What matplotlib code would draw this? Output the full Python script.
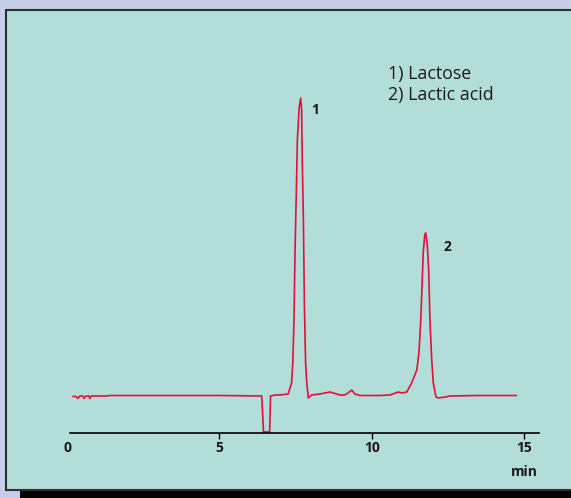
import matplotlib.pyplot as plt
from matplotlib.patches import Rectangle

# chromatogram trace (time in min, detector response)
time = [0.20, 0.30, 0.36, 0.42, 0.52, 0.56, 0.62, 0.72, 0.75, 0.80,
        1.30, 1.40, 3.00, 5.00, 6.39, 6.45, 6.65, 6.68, 6.83,
        6.99, 7.26, 7.37, 7.41, 7.45, 7.48, 7.52, 7.56, 7.62, 7.67,
        7.70, 7.72, 7.76, 7.79, 7.83, 7.87, 7.92, 8.03, 8.30,
        8.63, 8.96, 9.12, 9.22, 9.34, 9.45, 9.62, 10.27, 10.60,
        10.87, 10.99, 11.15, 11.31, 11.48, 11.55, 11.61, 11.65, 11.69,
        11.74, 11.77, 11.82, 11.87, 11.91, 11.97, 12.02, 12.11, 12.19,
        12.41, 12.57, 13.50, 14.74]
response = [-0.5, -0.5, -2.5, 0, 0, -2.5, 0, 0, -2.5, 0,
            0, 0.5, 0.5, 0.5, 0, -36, -36, 0, 1,
            1, 2, 13, 33, 76, 139, 196, 256, 289, 298,
            286, 239, 173, 93, 33, 13, -2, 1, 2,
            4, 1, 1, 3, 6, 2, 0.5, 0.5, 1,
            4, 3, 4, 13, 26, 43, 76, 109, 143,
            161, 163, 153, 126, 76, 36, 13, -1, -2,
            -1, 0, 0.5, 0.5]

ticks = [0, 5, 10, 15]
peak_labels = ["1", "2"]
peak_pos = [(8.14, 286), (12.49, 149)]
compounds = ["1) Lactose", "2) Lactic acid"]

W, H = 571, 498
fig = plt.figure(figsize=(W / 100, H / 100), dpi=100)
fig.patch.set_facecolor("#c6cde9")

# panel and its shadow, kept behind the axes
fig.patches.append(Rectangle((20 / W, 0), 1, 8 / H, transform=fig.transFigure,
                             facecolor="black", edgecolor="none", zorder=-2))
fig.patches.append(Rectangle((6 / W, 8 / H), 1, (H - 18) / H, transform=fig.transFigure,
                             facecolor="#b3ddd8", edgecolor="#2a2f33", linewidth=1.5,
                             zorder=-1))

ax = fig.add_axes([67 / W, 65 / H, 472 / W, 353 / H])
ax.patch.set_visible(False)
ax.plot(time, response, color="#e3103c", linewidth=1.2)

ax.set_xlim(0, 15.49)
ax.set_ylim(-37, 316)
for s in ["left", "right", "top"]:
    ax.spines[s].set_visible(False)
ax.spines["bottom"].set_bounds(0.1, 15.49)
ax.spines["bottom"].set_linewidth(1.2)
ax.set_yticks([])
ax.set_xticks(ticks)
ax.set_xticklabels([str(t) for t in ticks], fontweight="bold", fontsize=10,
                   family="Open Sans", color="#1a1a1a")
ax.tick_params(axis="x", direction="out", length=4, width=1, pad=2)
ax.xaxis.get_major_ticks()[0].tick1line.set_visible(False)

ax.text(15, -0.11, "min", transform=ax.get_xaxis_transform(), ha="center", va="center",
        fontsize=10, fontweight="bold", family="Open Sans", color="#1a1a1a")

for lab, (x, y) in zip(peak_labels, peak_pos):
    ax.text(x, y, lab, ha="center", va="center", fontsize=10, fontweight="bold",
            family="Open Sans", color="#1a1a1a")

for i, c in enumerate(compounds):
    fig.text(388 / W, 1 - (74 + 21 * i) / H, c, ha="left", va="center",
             fontsize=12.8, family="Open Sans", color="#1a1a1a")

fig.savefig("out.png", dpi=100, facecolor=fig.get_facecolor())
